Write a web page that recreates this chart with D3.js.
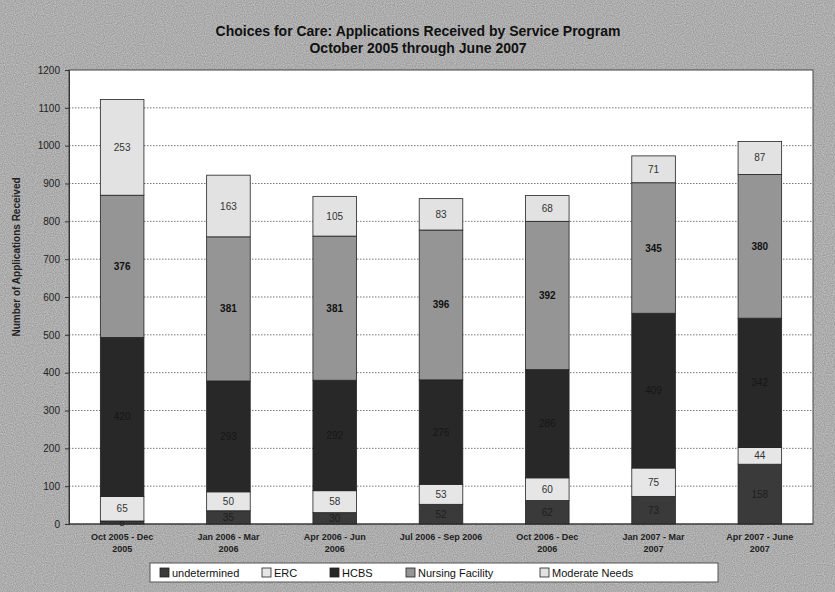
<!DOCTYPE html>
<html><head><meta charset="utf-8">
<script src="https://cdn.jsdelivr.net/npm/d3@7"></script>
<style>
html,body{margin:0;padding:0;background:#c6c6c6;}
svg{display:block;font-family:Arial,"Liberation Sans",sans-serif;}
</style></head><body>
<svg id="chart" width="835" height="592"></svg>
<script>
const categories = [
  ["Oct 2005 - Dec","2005"],
  ["Jan 2006 - Mar","2006"],
  ["Apr 2006 - Jun","2006"],
  ["Jul 2006 - Sep 2006",""],
  ["Oct 2006 - Dec","2006"],
  ["Jan 2007 - Mar","2007"],
  ["Apr 2007 - June","2007"]
];
const seriesNames = ["undetermined","ERC","HCBS","Nursing Facility","Moderate Needs"];
const undetermined = [8, 35, 30, 52, 62, 73, 158];
const erc          = [65, 50, 58, 53, 60, 75, 44];
const hcbs         = [420, 293, 292, 276, 286, 409, 342];
const nursing      = [376, 381, 381, 396, 392, 345, 380];
const moderate     = [253, 163, 105, 83, 68, 71, 87];
const yTicks = [0,100,200,300,400,500,600,700,800,900,1000,1100,1200];

const colors = ["#3a3a3a","#e6e6e6","#282828","#959595","#e2e2e2"];
const labelColors = ["#1e1e1e","#333","#161616","#111","#333"];
const labelWeights = ["normal","normal","normal","bold","normal"];

const svg = d3.select("#chart");
const W = 835, H = 592;

// speckle noise for scanned look
const defs = svg.append("defs");
const f = defs.append("filter").attr("id","noise").attr("x",0).attr("y",0).attr("width","100%").attr("height","100%");
f.append("feTurbulence").attr("type","fractalNoise").attr("baseFrequency",0.9).attr("numOctaves",1).attr("seed",3);
f.append("feColorMatrix").attr("type","matrix").attr("values","0 0 0 0 0  0 0 0 0 0  0 0 0 0 0  0 0 0 0.55 0");
f.append("feComposite").attr("in2","SourceGraphic").attr("operator","in");

svg.append("rect").attr("width",W).attr("height",H).attr("fill","#cfcfcf");
svg.append("rect").attr("width",W).attr("height",H).attr("fill","#fff").attr("filter","url(#noise)").attr("opacity",0.6);

const m = {left:69, right:813, top:70, bottom:524};

const x = d3.scaleBand().domain(d3.range(categories.length)).range([m.left, m.right]).paddingInner(0.59).paddingOuter(0.295);
const y = d3.scaleLinear().domain([0,1200]).range([m.bottom, m.top]);

// plot area
svg.append("rect").attr("x",m.left).attr("y",m.top).attr("width",m.right-m.left).attr("height",m.bottom-m.top)
  .attr("fill","#fff").attr("stroke","#444").attr("stroke-width",1);

// gridlines
svg.append("g").selectAll("line").data(yTicks.filter(t=>t>0 && t<1200)).join("line")
  .attr("x1",m.left).attr("x2",m.right).attr("y1",d=>y(d)).attr("y2",d=>y(d))
  .attr("stroke","#777").attr("stroke-width",1).attr("stroke-dasharray","1.5,1.5");

// y axis
const yAxis = svg.append("g").attr("transform",`translate(${m.left},0)`)
  .call(d3.axisLeft(y).tickValues(yTicks).tickFormat(d3.format("d")).tickSize(4).tickPadding(5));
yAxis.select(".domain").attr("stroke","#333");
yAxis.selectAll(".tick line").attr("stroke","#333");
yAxis.selectAll("text").attr("font-size",10).attr("fill","#222").attr("font-family","Arial, 'Liberation Sans', sans-serif");

// x axis line
svg.append("line").attr("x1",m.left).attr("x2",m.right).attr("y1",m.bottom).attr("y2",m.bottom).attr("stroke","#333");

// stacked bars
const rows = categories.map((c,i)=>({i, undetermined:undetermined[i], ERC:erc[i], HCBS:hcbs[i], "Nursing Facility":nursing[i], "Moderate Needs":moderate[i]}));
const stack = d3.stack().keys(seriesNames)(rows);

stack.forEach((layer,li)=>{
  const g = svg.append("g");
  g.selectAll("rect").data(layer).join("rect")
    .attr("x",d=>x(d.data.i)).attr("width",x.bandwidth())
    .attr("y",d=>y(d[1])).attr("height",d=>y(d[0])-y(d[1]))
    .attr("fill",colors[li]).attr("stroke","#222").attr("stroke-width",0.8);
  g.selectAll("text").data(layer).join("text")
    .attr("x",d=>x(d.data.i)+x.bandwidth()/2)
    .attr("y",d=>(y(d[0])+y(d[1]))/2)
    .attr("dy","0.35em").attr("text-anchor","middle")
    .attr("font-size",10).attr("font-weight",labelWeights[li]).attr("fill",labelColors[li])
    .text(d=>d[1]-d[0]);
});

// x labels
const xl = svg.append("g");
categories.forEach((c,i)=>{
  const t = xl.append("text").attr("x",x(i)+x.bandwidth()/2).attr("y",540).attr("text-anchor","middle")
    .attr("font-size",9).attr("font-weight","bold").attr("fill","#222");
  t.append("tspan").attr("x",x(i)+x.bandwidth()/2).attr("dy",0).text(c[0]);
  if (c[1]) t.append("tspan").attr("x",x(i)+x.bandwidth()/2).attr("dy",12).text(c[1]);
});

// y label
svg.append("text").attr("transform",`translate(20,${(m.top+m.bottom)/2 - 40}) rotate(-90)`)
  .attr("text-anchor","middle").attr("font-size",10).attr("font-weight","bold").attr("fill","#222")
  .text("Number of Applications Received");

// title
svg.append("text").attr("x",418).attr("y",36).attr("text-anchor","middle").attr("font-size",14).attr("font-weight","bold").attr("fill","#111")
  .text("Choices for Care: Applications Received by Service Program");
svg.append("text").attr("x",418).attr("y",53).attr("text-anchor","middle").attr("font-size",14).attr("font-weight","bold").attr("fill","#111")
  .text("October 2005 through June 2007");

// legend
const lg = svg.append("g");
const lx0 = 150, ly = 563, lw = 568, lh = 19;
lg.append("rect").attr("x",lx0).attr("y",ly).attr("width",lw).attr("height",lh).attr("fill","#fff").attr("stroke","#555");
const itemX = [160, 262, 330, 406, 540];
seriesNames.forEach((s,i)=>{
  lg.append("rect").attr("x",itemX[i]).attr("y",ly+5).attr("width",9).attr("height",9).attr("fill",colors[i]).attr("stroke","#222").attr("stroke-width",0.8);
  lg.append("text").attr("x",itemX[i]+12).attr("y",ly+14).attr("font-size",11).attr("fill","#111").text(s);
});
</script>
</body></html>
